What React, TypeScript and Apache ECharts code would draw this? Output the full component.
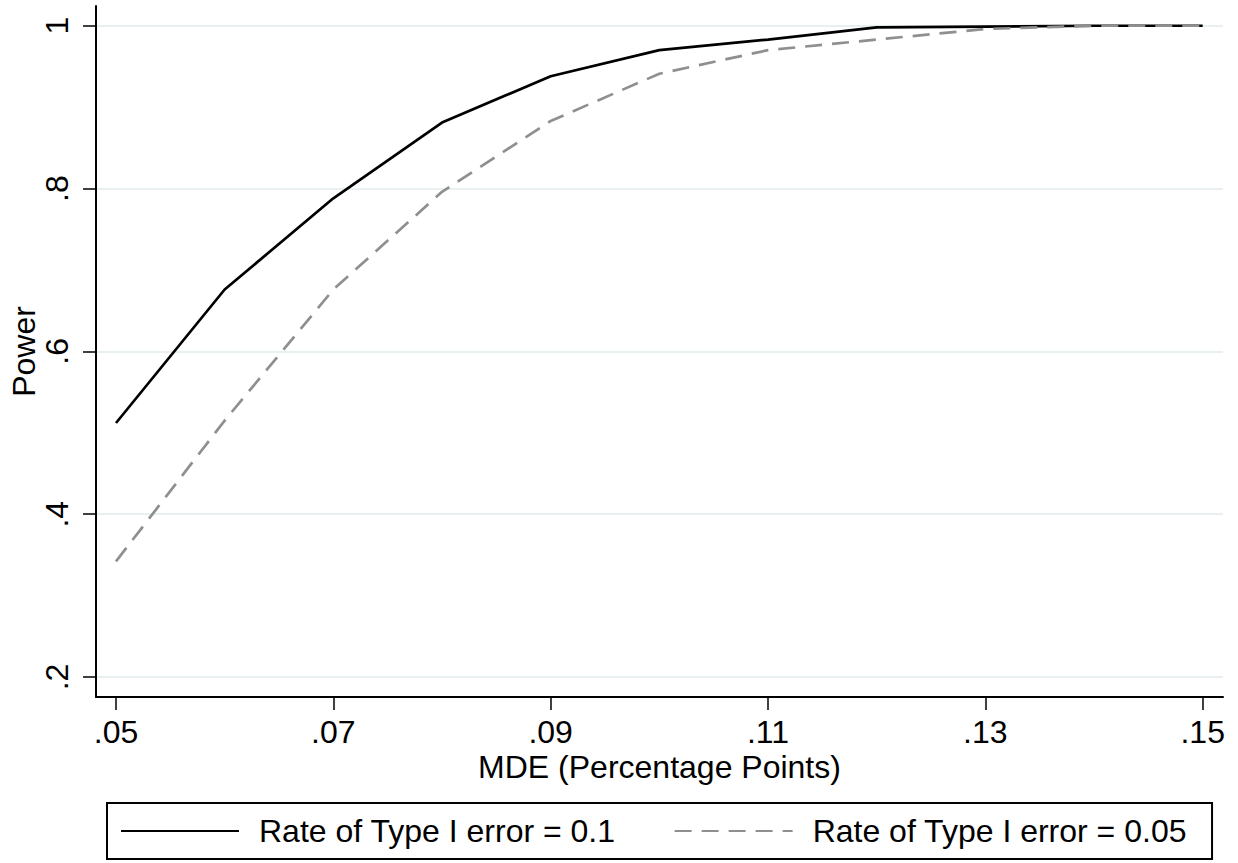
import React, { useEffect, useRef } from "react";
import * as echarts from "echarts";

const mde = [0.05, 0.06, 0.07, 0.08, 0.09, 0.1, 0.11, 0.12, 0.13, 0.14, 0.15];
const powerAlpha10 = [0.512, 0.676, 0.788, 0.881, 0.938, 0.97, 0.983, 0.998, 0.999, 1.0, 1.0];
const powerAlpha05 = [0.342, 0.515, 0.676, 0.796, 0.883, 0.941, 0.97, 0.983, 0.996, 1.0, 1.0];
const xTicks = [0.05, 0.07, 0.09, 0.11, 0.13, 0.15];
const yTicks = [0.2, 0.4, 0.6, 0.8, 1];
const seriesNames = ["Rate of Type I error = 0.1", "Rate of Type I error = 0.05"];

const X_MIN = 0.04816;
const X_MAX = 0.15187;
const Y_MIN = 0.17543;
const Y_MAX = 1.02423;

const FONT = "'Liberation Sans', Arial, Helvetica, sans-serif";

const fmt = (v: number) => {
  const s = String(+(+v).toFixed(2));
  return s.replace(/^0\./, ".");
};

export default function App() {
  const ref = useRef<HTMLDivElement>(null);
  useEffect(() => {
    document.body.style.margin = "0";
    if (!ref.current) return;
    const chart = echarts.init(ref.current, null, { renderer: "svg" });
    chart.setOption({
      animation: false,
      backgroundColor: "#ffffff",
      textStyle: { fontFamily: FONT },
      grid: { left: 96, right: 15, top: 6, bottom: 166, containLabel: false, outerBoundsMode: "none" },
      xAxis: {
        type: "value",
        min: X_MIN,
        max: X_MAX,
        name: "MDE (Percentage Points)",
        nameLocation: "middle",
        nameGap: 54,
        nameMoveOverlap: false,
        nameTextStyle: { fontSize: 32, color: "#000", fontFamily: FONT },
        axisLine: { show: true, lineStyle: { color: "#000", width: 2 } },
        axisTick: { show: true, length: 13, customValues: xTicks, lineStyle: { color: "#000", width: 1.5 } },
        axisLabel: { customValues: xTicks, formatter: fmt, fontSize: 32, color: "#000", margin: 19, fontFamily: FONT },
        splitLine: { show: false },
      },
      yAxis: {
        type: "value",
        min: Y_MIN,
        max: Y_MAX,
        name: "Power",
        nameLocation: "middle",
        nameRotate: 90,
        nameGap: 56,
        nameMoveOverlap: false,
        nameTextStyle: { fontSize: 32, color: "#000", fontFamily: FONT },
        axisLine: { show: true, lineStyle: { color: "#000", width: 2 } },
        axisTick: { show: true, length: 13, customValues: yTicks, lineStyle: { color: "#000", width: 1.5 } },
        axisLabel: { customValues: yTicks, formatter: fmt, rotate: 90, fontSize: 32, color: "#000", margin: 23, fontFamily: FONT },
        splitLine: { show: true, lineStyle: { color: "#e8f0f2", width: 2 } },
      },
      legend: {
        left: 107,
        top: 803,
        orient: "horizontal",
        padding: [12, 25, 12, 13],
        borderColor: "#000",
        borderWidth: 2,
        itemWidth: 118,
        itemHeight: 20,
        itemGap: 58,
        selectedMode: false,
        itemStyle: { opacity: 0 },
        textStyle: { fontSize: 32, color: "#000", fontFamily: FONT, padding: [0, 0, 0, 15] },
        data: seriesNames,
      },
      series: [
        {
          name: seriesNames[0],
          type: "line",
          data: mde.map((x, i) => [x, powerAlpha10[i]]),
          symbol: "none",
          showSymbol: false,
          lineStyle: { color: "#000", width: 2.7 },
          itemStyle: { color: "#000" },
          z: 3,
        },
        {
          name: seriesNames[1],
          type: "line",
          data: mde.map((x, i) => [x, powerAlpha05[i]]),
          symbol: "none",
          showSymbol: false,
          lineStyle: { color: "#8f8f8f", width: 2.7, type: [17, 10] },
          itemStyle: { color: "#8f8f8f" },
          z: 4,
        },
      ],
    });
    return () => chart.dispose();
  }, []);
  return <div ref={ref} style={{ width: 1238, height: 863 }} />;
}
